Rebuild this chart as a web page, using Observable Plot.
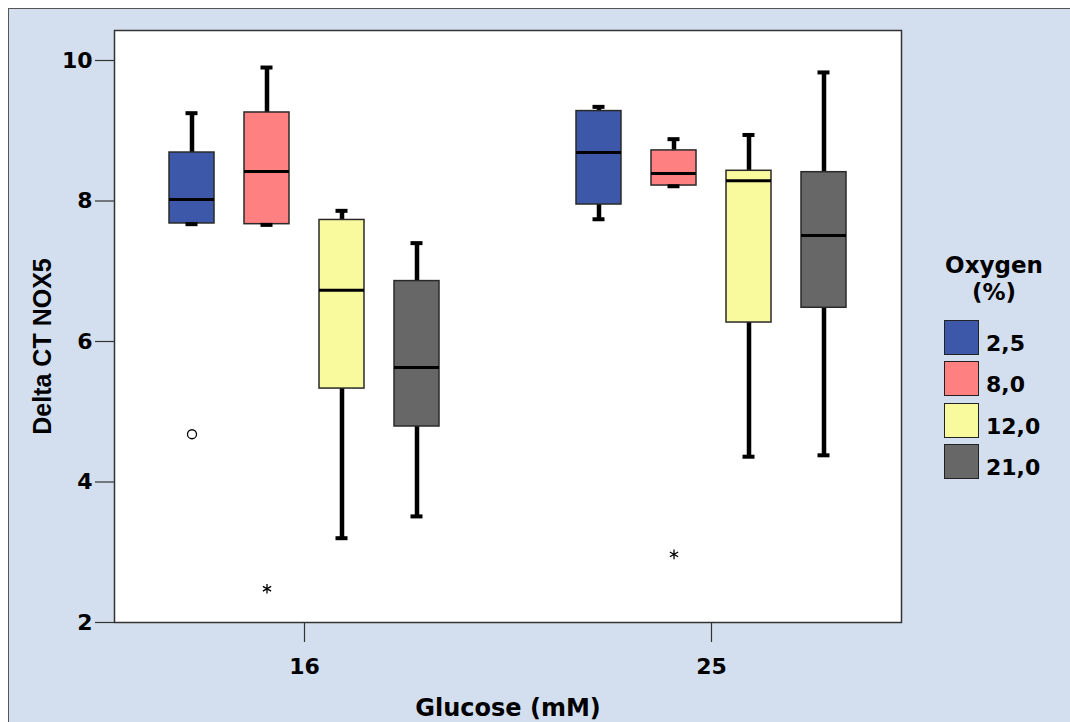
<!DOCTYPE html>
<html>
<head>
<meta charset="utf-8">
<script src="https://cdn.jsdelivr.net/npm/d3@7"></script>
<script src="https://cdn.jsdelivr.net/npm/@observablehq/plot@0.6"></script>
<style>
  html, body { margin: 0; padding: 0; background: #ffffff; }
  #panel {
    position: absolute; left: 8px; top: 8px; width: 1062px; height: 714px;
    background: #d3dfee; border-top: 1px solid #555; border-left: 1px solid #555;
    box-sizing: border-box; overflow: hidden;
  }
  #chart { position: absolute; left: 0; top: 0; }
  #legend { position: absolute; left: 921px; top: 245px; width: 130px;
    font-family: "DejaVu Sans", sans-serif; font-weight: bold; color: #000; }
  #legend .title { position: absolute; left: 0; width: 128px; text-align: center;
    font-size: 23px; line-height: 27px; white-space: nowrap; }
  #legend .row { position: absolute; left: 14px; height: 36px; }
  #legend .sw { position: absolute; left: 0; top: 0; width: 35px; height: 35px;
    box-sizing: border-box; border: 1px solid #222; }
  #legend .lab { position: absolute; left: 42px; top: 13px; font-size: 22px; line-height: 22px; white-space: nowrap; }
</style>
</head>
<body>
<div id="panel"><div id="chart"></div><div id="legend"></div></div>
<script>
// Glucose groups on the x axis, oxygen levels within each group
const glucose = ["16", "25"];
const oxygen = ["2,5", "8,0", "12,0", "21,0"];
const oxygenColors = ["#3d58a8", "#ff8080", "#f9f99e", "#676767"];

// Box-plot summaries, one entry per glucose × oxygen group
const groupGlucose = ["16", "16", "16", "16", "25", "25", "25", "25"];
const groupOxygen  = ["2,5", "8,0", "12,0", "21,0", "2,5", "8,0", "12,0", "21,0"];
const whiskerLow   = [7.67, 7.66, 3.20, 3.51, 7.74, 8.21, 4.36, 4.38];
const quartile1    = [7.68, 7.67, 5.33, 4.79, 7.95, 8.22, 6.27, 6.48];
const median       = [8.02, 8.42, 6.73, 5.63, 8.69, 8.39, 8.29, 7.51];
const quartile3    = [8.69, 9.26, 7.73, 6.86, 9.28, 8.72, 8.43, 8.41];
const whiskerHigh  = [9.25, 9.90, 7.86, 7.40, 9.34, 8.88, 8.94, 9.83];

// Outliers (circle) and extreme values (star)
const outlierGlucose = ["16", "16", "25"];
const outlierOxygen  = ["2,5", "8,0", "8,0"];
const outlierValue   = [4.68, 2.48, 2.97];
const outlierKind    = ["outlier", "extreme", "extreme"];

const yTicks = [2, 4, 6, 8, 10];
const yLabel = "Delta CT NOX5";
const xLabel = "Glucose (mM)";
const legendTitle = ["Oxygen", "(%)"];

const groups = groupGlucose.map((g, i) => ({
  glucose: g, oxygen: groupOxygen[i],
  lo: whiskerLow[i], q1: quartile1[i], med: median[i], q3: quartile3[i], hi: whiskerHigh[i]
}));
const points = outlierGlucose.map((g, i) => ({
  glucose: g, oxygen: outlierOxygen[i], value: outlierValue[i], kind: outlierKind[i]
}));

const pos = {fx: "glucose", x: "oxygen"};

const chart = Plot.plot({
  width: 1061,
  height: 713,
  marginLeft: 104,
  marginRight: 168,
  marginTop: 21,
  marginBottom: 100,
  style: {fontFamily: "DejaVu Sans, sans-serif", fontWeight: "bold", fontSize: "22px", color: "#000", background: "transparent", overflow: "visible"},
  fx: {domain: glucose, paddingInner: 0.066, paddingOuter: 0, label: null},
  x: {domain: oxygen, paddingInner: 0.404, paddingOuter: 0.725, axis: null},
  y: {domain: [2, 10.427]},
  color: {domain: oxygen, range: oxygenColors},
  marks: [
    Plot.frame({facet: "super", fill: "white", stroke: "#333", strokeWidth: 1.5}),
    Plot.axisY({ticks: yTicks, tickSize: 19, tickPadding: 3, label: null, stroke: "#333", strokeWidth: 1.2}),
    Plot.axisFx({anchor: "bottom", tickSize: 20, tickPadding: 16, label: null, stroke: "#333", strokeWidth: 1.2}),
    // whiskers
    Plot.ruleX(groups, {...pos, y1: "lo", y2: "hi", stroke: "#000", strokeWidth: 4.5}),
    // boxes
    Plot.barY(groups, {...pos, y1: "q1", y2: "q3", fill: "oxygen", stroke: "#2a2a2a", strokeWidth: 1.5}),
    // medians
    Plot.tickY(groups, {...pos, y: "med", stroke: "#000", strokeWidth: 3}),
    // whisker caps
    Plot.tickY(groups, {...pos, y: "lo", stroke: "#000", strokeWidth: 4, insetLeft: 16.5, insetRight: 16.5}),
    Plot.tickY(groups, {...pos, y: "hi", stroke: "#000", strokeWidth: 4, insetLeft: 16.5, insetRight: 16.5}),
    // outliers
    Plot.dot(points.filter((d) => d.kind === "outlier"), {...pos, y: "value", r: 4.5, stroke: "#000", fill: "white", strokeWidth: 1.3}),
    Plot.dot(points.filter((d) => d.kind === "extreme"), {...pos, y: "value", symbol: "asterisk", r: 4.5, stroke: "#000", strokeWidth: 1.3}),
    // axis titles
    Plot.text([yLabel], {facet: "super", frameAnchor: "left", textAnchor: "middle", lineAnchor: "middle", rotate: -90, dx: -72, dy: 20,
      fontFamily: "Liberation Sans, Arial, sans-serif", fontSize: 25, fontWeight: "bold", fill: "#000"}),
    Plot.text([xLabel], {facet: "super", frameAnchor: "bottom", textAnchor: "middle", lineAnchor: "middle", dy: 86,
      fontSize: 24, fontWeight: "bold", fill: "#000"})
  ]
});
document.getElementById("chart").append(chart);

// Legend built from the same oxygen levels and colours
const color = chart.scale("color");
const legend = document.getElementById("legend");
legendTitle.forEach((t, i) => {
  const line = document.createElement("div");
  line.className = "title";
  line.style.top = (-2 + i * 27) + "px";
  line.textContent = t;
  legend.append(line);
});
oxygen.forEach((o, i) => {
  const row = document.createElement("div");
  row.className = "row";
  row.style.top = (66 + i * 41.3) + "px";
  const sw = document.createElement("div");
  sw.className = "sw";
  sw.style.background = color.apply(o);
  const lab = document.createElement("div");
  lab.className = "lab";
  lab.textContent = o;
  row.append(sw, lab);
  legend.append(row);
});
</script>
</body>
</html>
